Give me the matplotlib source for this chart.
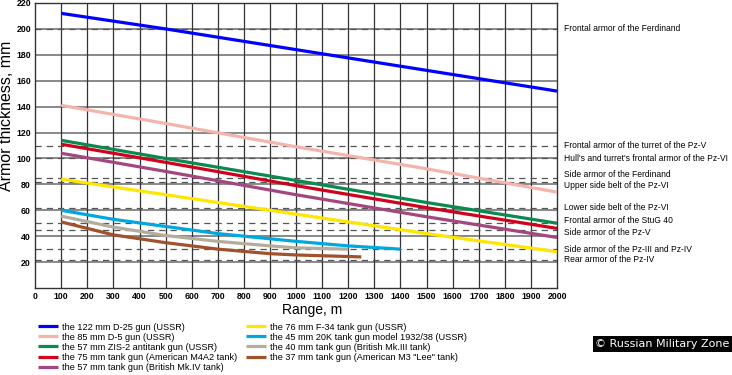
import matplotlib.pyplot as plt

plt.rcParams['font.family'] = ['Liberation Sans', 'DejaVu Sans']

# penetration curves (range m -> armor mm)
r_122 = [100, 500, 1000, 1500, 2000]
p_122 = [212, 200, 184, 168, 152]
r_85 = [100, 500, 1000, 1500, 2000]
p_85 = [141, 127, 109, 92, 74]
r_zis2 = [100, 500, 1000, 1500, 2000]
p_zis2 = [114, 100, 83, 66, 50]
r_75 = [100, 500, 1000, 1500, 2000]
p_75 = [111, 97, 79, 62, 46]
r_57mk4 = [100, 500, 1000, 1500, 2000]
p_57mk4 = [104, 90, 72, 55, 39]
r_76 = [100, 500, 1000, 1500, 2000]
p_76 = [84, 72, 57, 42, 28]
r_45 = [100, 300, 500, 700, 1000, 1200, 1400]
p_45 = [60, 53, 47.5, 42, 36, 32.5, 30]
r_40 = [100, 300, 500, 700, 900, 1000, 1200]
p_40 = [55.5, 47, 40.5, 36, 32.5, 31, 30]
r_37 = [100, 300, 500, 700, 900, 1000, 1250]
p_37 = [51, 41, 35, 30, 26.5, 25.5, 24]

labels = ["the 122 mm D-25 gun (USSR)",
          "the 85 mm D-5 gun (USSR)",
          "the 57 mm ZIS-2 antitank gun (USSR)",
          "the 75 mm tank gun (American M4A2 tank)",
          "the 57 mm tank gun (British Mk.IV tank)",
          "the 76 mm F-34 tank gun (USSR)",
          "the 45 mm 20K tank gun model 1932/38 (USSR)",
          "the 40 mm tank gun (British Mk.III tank)",
          "the 37 mm tank gun (American M3 \"Lee\" tank)"]
colors = ['#0000ff', '#f4b4ae', '#0a8a4e', '#d0021b', '#a3477f',
          '#ffe600', '#00a8e0', '#b3ae9c', '#a0522d']

# armor reference levels
armor_vals = [200, 110, 100, 85, 82, 62, 50, 45, 30, 22]
armor_names = ["Frontal armor of the Ferdinand",
               "Frontal armor of the turret of the Pz-V",
               "Hull's and turret's frontal armor of the Pz-VI",
               "Side armor of the Ferdinand",
               "Upper side belt of the Pz-VI",
               "Lower side belt of the Pz-VI",
               "Frontal armor of the StuG 40",
               "Side armor of the Pz-V",
               "Side armor of the Pz-III and Pz-IV",
               "Rear armor of the Pz-IV"]
label_shift = [0, 0, 0, 2.5, -2.5, 0, 2, -2, 0, 0]

fig = plt.figure(figsize=(7.32, 3.75), dpi=100)
ax = fig.add_axes([0.048, 0.232, 0.713, 0.76])

for v in range(20, 221, 20):
    ax.axhline(v, color='#808080', lw=1.3, zorder=1)
for v in range(100, 2000, 100):
    ax.axvline(v, color='#333333', lw=0.9, zorder=1)
for v in armor_vals:
    ax.axhline(v, color='#555555', lw=0.9, ls=(0, (5, 4)), zorder=2)

data = [(r_122, p_122), (r_85, p_85), (r_zis2, p_zis2), (r_75, p_75),
        (r_57mk4, p_57mk4), (r_76, p_76), (r_45, p_45), (r_40, p_40),
        (r_37, p_37)]
for (r, p), c, lab in zip(data, colors, labels):
    ax.plot(r, p, color=c, lw=2.3, label=lab, zorder=3, solid_capstyle='butt')

for v, name, s in zip(armor_vals, armor_names, label_shift):
    ax.text(2025, v + s, name, fontsize=6.15, va='center', ha='left')

ax.set_xlim(0, 2000)
ax.set_ylim(0, 220)
ax.set_xticks(range(0, 2001, 100))
ax.set_yticks(range(20, 221, 20))
ax.tick_params(length=0, labelsize=6.3, pad=3)
for t in ax.get_xticklabels() + ax.get_yticklabels():
    t.set_fontweight('bold')
for sp in ax.spines.values():
    sp.set_color('#333333')
    sp.set_linewidth(1)
ax.set_xlabel("Range, m", fontsize=10)
ax.set_ylabel("Armor thickness, mm", fontsize=11.5)
ax.xaxis.set_label_coords(0.53, -0.052)
ax.yaxis.set_label_coords(-0.041, 0.605)

fig.legend(loc='upper left', bbox_to_anchor=(0.052, 0.14), ncol=2,
           fontsize=6.6, frameon=False, handlelength=2.2, handletextpad=0.4,
           labelspacing=0.12, columnspacing=1.0, borderaxespad=0, borderpad=0)

fig.text(0.997, 0.082, "\u00a9 Russian Military Zone", fontsize=8, color='white',
         ha='right', va='center', family=['Liberation Sans Narrow', 'DejaVu Sans'],
         bbox=dict(facecolor='black', edgecolor='none', pad=2))

fig.savefig('out.png', dpi=100)
